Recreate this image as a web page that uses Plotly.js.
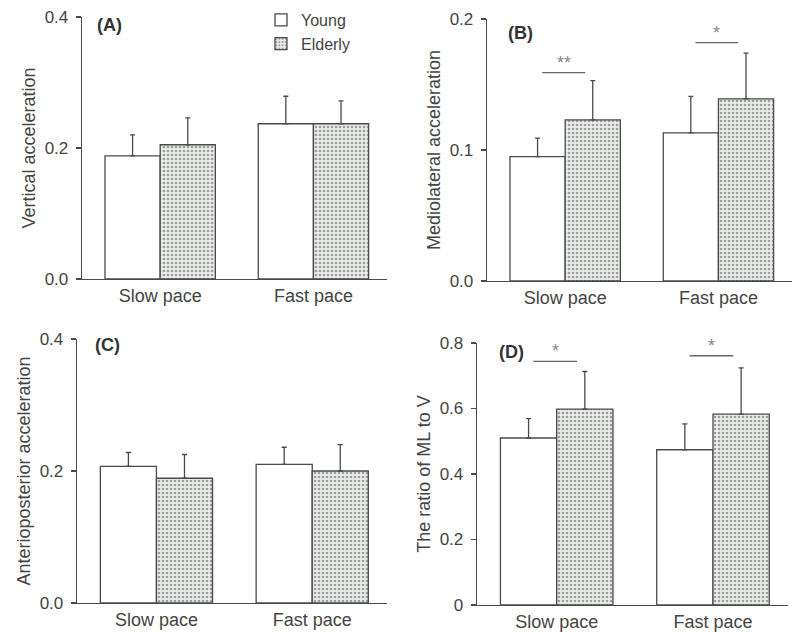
<!DOCTYPE html>
<html>
<head>
<meta charset="utf-8">
<script src="https://cdn.plot.ly/plotly-3.0.1.min.js"></script>
<style>html,body{margin:0;padding:0;background:#fff;}#chart{width:793px;height:632px;}</style>
</head>
<body>
<div id="chart"></div>
<script>
// ---- data ----
const categories = ['Slow pace', 'Fast pace'];
const seriesNames = ['Young', 'Elderly'];

const vertYoung = [0.188, 0.237];
const vertYoungSD = [0.032, 0.042];
const vertElderly = [0.205, 0.237];
const vertElderlySD = [0.041, 0.035];

const mlYoung = [0.095, 0.113];
const mlYoungSD = [0.014, 0.028];
const mlElderly = [0.123, 0.139];
const mlElderlySD = [0.030, 0.035];

const apYoung = [0.207, 0.210];
const apYoungSD = [0.021, 0.026];
const apElderly = [0.189, 0.200];
const apElderlySD = [0.036, 0.040];

const ratioYoung = [0.510, 0.474];
const ratioYoungSD = [0.059, 0.079];
const ratioElderly = [0.598, 0.583];
const ratioElderlySD = [0.115, 0.141];

const panelLabels = ['(A)', '(B)', '(C)', '(D)'];
const yTitles = ['Vertical acceleration', 'Mediolateral acceleration',
                 'Anterioposterior acceleration', 'The ratio of ML to V'];
const yTicksA = [0, 0.2, 0.4];      const yTickTextA = ['0.0', '0.2', '0.4'];
const yTicksB = [0, 0.1, 0.2];      const yTickTextB = ['0.0', '0.1', '0.2'];
const yTicksC = [0, 0.2, 0.4];      const yTickTextC = ['0.0', '0.2', '0.4'];
const yTicksD = [0, 0.2, 0.4, 0.6, 0.8]; const yTickTextD = ['0', '0.2', '0.4', '0.6', '0.8'];

// significance markers
const sigPanels = ['B', 'B', 'D', 'D'];
const sigCats = [0, 1, 0, 1];
const sigLevels = [0.159, 0.182, 0.744, 0.761];
const sigTexts = ['**', '*', '*', '*'];

// ---- styles ----
const LINE = '#4a4a4a';
const TXT = '#444';
const FONT = 'Liberation Sans, Arial, sans-serif';

function bar(name, y, sd, xa, ya, elderly, showlegend) {
  const marker = {
    color: elderly ? '#e2e5e2' : '#ffffff',
    line: {color: LINE, width: 1.3}
  };
  if (elderly) marker.pattern = {shape: '.', fgcolor: '#9aa09a', bgcolor: '#eaedea', size: 4, solidity: 0.35};
  return {
    type: 'bar', name: name, x: categories, y: y,
    xaxis: xa, yaxis: ya, marker: marker,
    showlegend: showlegend, legendgroup: name,
    error_y: {type: 'data', symmetric: false, array: sd, arrayminus: sd.map(() => 0),
              color: LINE, thickness: 1.3, width: 2.5}
  };
}

const data = [
  bar(seriesNames[0], vertYoung, vertYoungSD, 'x', 'y', false, true),
  bar(seriesNames[1], vertElderly, vertElderlySD, 'x', 'y', true, true),
  bar(seriesNames[0], mlYoung, mlYoungSD, 'x2', 'y2', false, false),
  bar(seriesNames[1], mlElderly, mlElderlySD, 'x2', 'y2', true, false),
  bar(seriesNames[0], apYoung, apYoungSD, 'x3', 'y3', false, false),
  bar(seriesNames[1], apElderly, apElderlySD, 'x3', 'y3', true, false),
  bar(seriesNames[0], ratioYoung, ratioYoungSD, 'x4', 'y4', false, false),
  bar(seriesNames[1], ratioElderly, ratioElderlySD, 'x4', 'y4', true, false)
];

function xax(domain, anchor) {
  return {
    domain: domain, anchor: anchor, type: 'category', range: [-0.51, 1.48],
    showline: true, linecolor: LINE, linewidth: 1.3, ticks: '', showgrid: false,
    zeroline: false, tickfont: {family: FONT, size: 18, color: TXT}, fixedrange: true
  };
}
function yax(domain, anchor, range, tv, tt, title) {
  return {
    domain: domain, anchor: anchor, range: range, tickvals: tv, ticktext: tt,
    showline: true, linecolor: LINE, linewidth: 1.3, ticks: 'outside', ticklen: 5,
    tickcolor: LINE, tickwidth: 1.3, showgrid: false, zeroline: false,
    tickfont: {family: FONT, size: 17, color: TXT}, ticklabelstandoff: 4,
    title: {text: title, font: {family: FONT, size: 18, color: TXT}, standoff: 4},
    automargin: false, fixedrange: true
  };
}

const W = 793, H = 632;
const px = v => v / W;
const py = v => 1 - v / H;

const layout = {
  width: W, height: H,
  margin: {l: 0, r: 0, t: 0, b: 0},
  paper_bgcolor: '#fff', plot_bgcolor: 'rgba(0,0,0,0)',
  barmode: 'group', bargap: 0.28, bargroupgap: 0,
  font: {family: FONT, color: TXT},
  xaxis: xax([px(82), px(387)], 'y'),
  yaxis: yax([py(279), py(17)], 'x', [0, 0.4], yTicksA, yTickTextA, yTitles[0]),
  xaxis2: xax([px(487), px(792)], 'y2'),
  yaxis2: yax([py(281), py(19)], 'x2', [0, 0.2], yTicksB, yTickTextB, yTitles[1]),
  xaxis3: xax([px(77), px(387)], 'y3'),
  yaxis3: yax([py(603), py(339)], 'x3', [0, 0.4], yTicksC, yTickTextC, yTitles[2]),
  xaxis4: xax([px(477), px(788)], 'y4'),
  yaxis4: yax([py(605), py(343)], 'x4', [0, 0.8], yTicksD, yTickTextD, yTitles[3]),
  showlegend: true,
  legend: {x: px(261), y: py(3), xanchor: 'left', yanchor: 'top', bgcolor: 'rgba(0,0,0,0)',
           font: {family: FONT, size: 16, color: TXT}, tracegroupgap: 0, itemwidth: 30},
  shapes: [],
  annotations: []
};

// panel labels
const labelPos = [[95, 25], [506, 33], [93, 345], [497, 352]];
panelLabels.forEach((t, i) => {
  layout.annotations.push({text: '<b>' + t + '</b>', xref: 'paper', yref: 'paper',
    x: px(labelPos[i][0]), y: py(labelPos[i][1]), xanchor: 'left', yanchor: 'middle',
    showarrow: false, font: {family: FONT, size: 18, color: '#333'}});
});

// significance lines
sigPanels.forEach((p, i) => {
  const xa = p === 'B' ? 'x2' : 'x4', ya = p === 'B' ? 'y2' : 'y4';
  const c = sigCats[i];
  layout.shapes.push({type: 'line', xref: xa, yref: ya, x0: c - 0.15, x1: c + 0.13,
    y0: sigLevels[i], y1: sigLevels[i], line: {color: '#666', width: 1.3}});
  layout.annotations.push({text: sigTexts[i], xref: xa, yref: ya, x: c - 0.01, y: sigLevels[i],
    xanchor: 'center', yanchor: 'bottom', yshift: -2, showarrow: false,
    font: {family: FONT, size: 18, color: '#888'}});
});

Plotly.newPlot('chart', data, layout, {displayModeBar: false, staticPlot: true});
</script>
</body>
</html>
